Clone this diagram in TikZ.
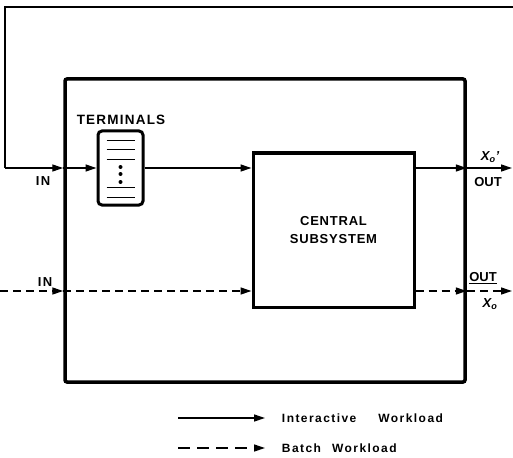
\documentclass[tikz,border=0pt]{standalone}
\usepackage{fontspec}
\setmainfont{Liberation Sans}
\usetikzlibrary{arrows.meta}

\begin{document}
\begin{tikzpicture}[
    x=1pt, y=-1pt,
    line width=1.3pt,
    box/.style={draw, line width=3pt},
    lbl/.style={font=\bfseries\fontsize{13}{18}\selectfont},
    flow/.style={-{Triangle[length=11pt,width=7pt]}},
    batch/.style={flow, dash pattern=on 8pt off 5pt},
]
  \useasboundingbox (0,0) rectangle (513,457);

  % 外框
  \node[box, line width=3.5pt, rounded corners=2pt, minimum width=400pt, minimum height=303pt] (sys) at (265,230.5) {};

  % 终端
  \node[box, rounded corners=4pt, minimum width=45pt, minimum height=74pt] (term) at (120.5,168) {};
  \node[lbl, font=\bfseries\fontsize{13.5}{15}\selectfont\addfontfeatures{LetterSpace=9}] (termlbl) at (121,120) {TERMINALS};
  \foreach \dy in {-27,-18,-9,19,29}
    \draw[line width=1pt] ([shift={(-14,\dy)}]term.center) -- ++(28,0);
  \foreach \dy in {-1,6,14}
    \fill ([shift={(0,\dy)}]term.center) circle (2pt);

  % 中央子系统
  \node[box, lbl, align=center, minimum width=161pt, minimum height=154pt,
        font=\bfseries\fontsize{13}{18}\selectfont\addfontfeatures{LetterSpace=6}] (cs) at (333.5,230) {CENTRAL\\SUBSYSTEM};

  % 端点
  \coordinate (fbend) at (513,7);
  \coordinate (fbtop) at (5,7);
  \coordinate (fbin) at (5,168);
  \coordinate (bin) at (0,291);
  \coordinate (iout) at (512,168);
  \coordinate (bout) at (512,291);

  % 交互负载
  \draw (fbend) -- (fbtop) -- (fbin);
  \draw[flow] (fbin) -- (sys.west |- fbin);
  \draw[flow] (sys.west |- fbin) -- (term.west);
  \draw[flow] (term.east) -- (cs.west |- term.east);
  \draw[flow] (cs.east |- term.east) -- (sys.east |- term.east);
  \draw[flow] (sys.east |- term.east) -- (iout);

  % 批处理负载
  \draw[batch] (bin) -- (sys.west |- bin);
  \draw[batch] (sys.west |- bin) -- (cs.west |- bin);
  \draw[batch] (cs.east |- bin) -- (sys.east |- bin);
  \draw[batch] (sys.east |- bin) -- (bout);

  % 说明文字
  \node[lbl, font=\bfseries\fontsize{13}{15}\selectfont\addfontfeatures{LetterSpace=10}] (in1) at (43,181) {IN};
  \node[lbl, font=\bfseries\fontsize{13}{15}\selectfont\addfontfeatures{LetterSpace=10}] (in2) at (45,282) {IN};
  \node[lbl] (xo1) at (490,157) {\itshape X\textsubscript{o}'};
  \node[lbl] (out1) at (488,182) {OUT};
  \node[lbl] (out2) at (483,278) {\underline{OUT}};
  \node[lbl] (xo2) at (490,304) {\itshape X\textsubscript{o}};

  % 图例
  \coordinate (l1a) at (178,418);
  \coordinate (l1b) at (265,418);
  \coordinate (l2a) at (178,448);
  \coordinate (l2b) at (265,448);
  \draw[flow] (l1a) -- (l1b);
  \draw[flow, dash pattern=on 12pt off 7pt] (l2a) -- (l2b);
  \node[lbl, anchor=west, font=\bfseries\fontsize{12}{14}\selectfont\addfontfeatures{LetterSpace=12}] (leg1) at (278,418) {Interactive\hspace{22pt}Workload};
  \node[lbl, anchor=west, font=\bfseries\fontsize{12}{14}\selectfont\addfontfeatures{LetterSpace=12}] (leg2) at (278,448) {Batch\hspace{11pt}Workload};

\end{tikzpicture}
\end{document}
